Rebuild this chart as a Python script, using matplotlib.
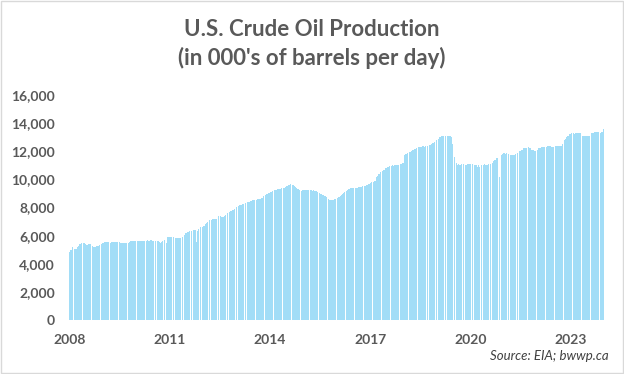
import numpy as np
import matplotlib
matplotlib.use('Agg')
from matplotlib import pyplot as plt
from matplotlib.patches import Rectangle

# weekly U.S. crude oil production, 000's of barrels per day
# one list per 52-week block (blocks start at the year labels)
y2008 = [4840, 4900, 4950, 5000, 5100, 5190, 5180, 5120, 5080, 5050,
         5050, 5060, 5100, 5200, 5280, 5330, 5380, 5420, 5450, 5480,
         5500, 5520, 5500, 5480, 5450, 5400, 5350, 5330, 5320, 5340,
         5380, 5400, 5410, 5380, 5350, 5300, 5250, 5220, 5200, 5190,
         5200, 5220, 5240, 5250, 5260, 5280, 5320, 5350, 5380, 5400,
         5420, 5450]
y2009 = [5480, 5500, 5520, 5550, 5560, 5570, 5580, 5560, 5540, 5520,
         5500, 5500, 5490, 5500, 5520, 5540, 5560, 5570, 5580, 5570,
         5560, 5550, 5540, 5550, 5560, 5540, 5530, 5520, 5510, 5500,
         5500, 5490, 5500, 5480, 5470, 5460, 5450, 5460, 5400, 5280,
         5450, 5520, 5580, 5600, 5620, 5640, 5640, 5630, 5620, 5610,
         5600, 5600]
y2010 = [5600, 5610, 5620, 5600, 5610, 5620, 5630, 5620, 5630, 5640,
         5640, 5630, 5640, 5650, 5640, 5650, 5640, 5650, 5660, 5650,
         5660, 5650, 5660, 5670, 5660, 5650, 5660, 5650, 5640, 5650,
         5640, 5640, 5630, 5640, 5620, 5600, 5560, 5500, 5480, 5520,
         5600, 5650, 5680, 5690, 5680, 5700, 5750, 5500, 5880, 5920,
         5930, 5940]
y2011 = [5920, 5900, 5890, 5880, 5870, 5860, 5870, 5860, 5850, 5860,
         5850, 5830, 5800, 5780, 5800, 5820, 5840, 5860, 5880, 5870,
         5880, 5900, 5950, 6050, 6120, 6160, 6180, 6200, 6250, 6280,
         6300, 6320, 6330, 6340, 6330, 6350, 6360, 6370, 6380, 6390,
         6380, 6380, 5570, 6300, 6400, 6450, 6500, 6550, 6580, 6610,
         6640, 6600]
y2012 = [6600, 6650, 6700, 6780, 6850, 6920, 6950, 7000, 7050, 7100,
         7110, 7120, 7130, 7140, 7150, 7150, 7160, 7170, 7180, 7180,
         7190, 7200, 7250, 7320, 7380, 7400, 7400, 7380, 7350, 7320,
         7300, 7300, 7320, 7380, 7450, 7500, 7550, 7600, 7630, 7650,
         7680, 7700, 7720, 7750, 7780, 7800, 7830, 7850, 7880, 7920,
         7960, 8000]
y2013 = [8010, 8050, 8080, 8120, 8160, 8200, 8210, 8200, 8210, 8220,
         8220, 8230, 8250, 8280, 8300, 8320, 8340, 8360, 8380, 8400,
         8420, 8430, 8450, 8470, 8490, 8500, 8510, 8520, 8530, 8540,
         8550, 8550, 8560, 8570, 8580, 8590, 8600, 8600, 8620, 8650,
         8700, 8750, 8800, 8850, 8880, 8920, 8950, 8960, 8980, 9000,
         9020, 9050]
y2014 = [9080, 9100, 9120, 9130, 9150, 9170, 9190, 9210, 9230, 9250,
         9260, 9270, 9290, 9300, 9320, 9340, 9350, 9360, 9370, 9380,
         9390, 9400, 9400, 9420, 9450, 9500, 9530, 9560, 9590, 9610,
         9620, 9630, 9640, 9620, 9600, 9610, 9600, 9580, 9550, 9500,
         9460, 9420, 9380, 9330, 9290, 9250, 9220, 9200, 9190, 9200,
         9210, 9220]
y2015 = [9230, 9240, 9250, 9240, 9250, 9260, 9250, 9240, 9250, 9240,
         9230, 9240, 9220, 9210, 9200, 9200, 9210, 9190, 9180, 9170,
         9150, 9120, 9100, 9080, 9050, 9020, 8980, 8960, 8940, 8920,
         8900, 8880, 8850, 8820, 8790, 8770, 8740, 8700, 8650, 8600,
         8550, 8530, 8520, 8540, 8550, 8560, 8570, 8560, 8570, 8580,
         8570, 8600]
y2016 = [8620, 8650, 8700, 8740, 8780, 8820, 8850, 8880, 8920, 8960,
         9000, 9050, 9080, 9120, 9160, 9200, 9230, 9260, 9290, 9320,
         9340, 9360, 9370, 9360, 9370, 9380, 9380, 9390, 9380, 9400,
         9390, 9400, 9410, 9420, 9430, 9440, 9450, 9470, 9480, 9500,
         9510, 9520, 9530, 9540, 9550, 9560, 9580, 9600, 9620, 9650,
         8530, 9700]
y2017 = [9720, 9750, 9780, 9800, 9820, 9840, 9850, 9860, 9870, 9880,
         10200, 10250, 10300, 10350, 10400, 10450, 10500, 10530, 10550, 10580,
         10600, 10650, 10700, 10750, 10790, 10800, 10820, 10850, 10880, 10900,
         10920, 10950, 10970, 10980, 10990, 11000, 10980, 11000, 10990, 11000,
         11010, 11000, 11020, 11010, 11030, 11050, 11060, 11080, 11100, 11120,
         11130, 11140]
y2018 = [11200, 11740, 11750, 11780, 11800, 11820, 11850, 11870, 11900, 11930,
         11950, 11980, 12000, 12050, 12080, 12100, 12120, 12150, 12170, 12200,
         12200, 12220, 12250, 12270, 12300, 12320, 12330, 12320, 12300, 12340,
         12350, 12360, 12330, 12360, 12380, 12360, 12380, 12400, 12420, 12450,
         12480, 12500, 12480, 12500, 12530, 12560, 12600, 12640, 12680, 12720,
         12760, 12800]
y2019 = [12830, 12860, 12900, 12950, 13000, 13040, 13050, 13050, 13060, 13070,
         13080, 13090, 13090, 13100, 13100, 13090, 13100, 13100, 13110, 13100,
         13100, 13100, 13000, 12800, 12500, 12200, 11850, 11600, 11400, 11260,
         11200, 11100, 11000, 11070, 11100, 11000, 11000, 10700, 11100, 11000,
         10400, 11100, 9770, 10800, 11000, 10900, 11000, 11100, 11000, 11100,
         11100, 11100]
y2020 = [11100, 11140, 10550, 11100, 11000, 11000, 11000, 10900, 11000, 11000,
         11000, 10900, 11000, 11000, 10900, 10960, 10900, 11000, 9720, 11000,
         11000, 11100, 11070, 11000, 11100, 11000, 11000, 11000, 11100, 11000,
         11000, 11100, 11200, 11200, 11200, 11300, 11300, 11400, 11500, 11400,
         11500, 11500, 11500, 11600, 11500, 10200, 11600, 11700, 11700, 11800,
         11800, 11900]
y2021 = [11900, 11900, 11800, 11900, 11900, 11900, 11800, 11800, 11700, 11700,
         11700, 11700, 11700, 11700, 11700, 11700, 11700, 11800, 11800, 11800,
         11900, 11900, 11900, 12000, 12000, 12000, 12000, 12100, 12100, 12100,
         12200, 12100, 12200, 12200, 12200, 12200, 12200, 12200, 12300, 12200,
         12200, 12200, 12200, 12100, 12100, 12100, 12100, 12000, 12100, 12000,
         12100, 12100]
y2022 = [12100, 12200, 12200, 12200, 12300, 12200, 12300, 12300, 12300, 12300,
         12300, 12300, 12400, 12400, 12300, 12400, 12400, 12400, 12400, 12400,
         12400, 12300, 12300, 12300, 12400, 12300, 12400, 12300, 12400, 12400,
         12400, 12400, 12500, 12400, 12400, 12500, 12400, 12400, 12400, 12500,
         12400, 12400, 12800, 12900, 12900, 13000, 13000, 13100, 13100, 13200,
         13200, 13200]
y2023 = [13200, 13300, 13200, 13300, 13300, 13300, 13200, 13300, 13300, 13300,
         13300, 13300, 13300, 13300, 13300, 13300, 13300, 13300, 13100, 13100,
         13100, 13100, 13100, 13100, 13100, 13100, 13100, 13100, 13100, 13100,
         13100, 13200, 13300, 13300, 13300, 13300, 13400, 13400, 13400, 13400,
         13400, 13400, 13500, 13400, 13300, 13300, 13300, 13300, 13400, 13400,
         13500, 13600]

blocks = [y2008, y2009, y2010, y2011, y2012, y2013, y2014, y2015,
          y2016, y2017, y2018, y2019, y2020, y2021, y2022, y2023]
year_labels = ['2008', '2011', '2014', '2017', '2020', '2023']
y_ticks = [0, 2000, 4000, 6000, 8000, 10000, 12000, 14000, 16000]

TEXT = '#595959'
BAR = '#a2ddf7'


def main():
    values = np.concatenate([np.array(b) for b in blocks])
    x = np.arange(len(values))

    plt.rcParams['font.family'] = ['Lato', 'DejaVu Sans']
    fig = plt.figure(figsize=(6.24, 3.74), dpi=100)
    fig.patches.append(Rectangle((0.001, 0.002), 0.997, 0.995, transform=fig.transFigure,
                                 fill=False, edgecolor='#d9d9d9', linewidth=1))
    ax = fig.add_axes([69 / 624, 1 - 320 / 374, 535 / 624, 225 / 374])

    ax.bar(x, values, width=0.85, color=BAR, linewidth=0)
    ax.set_xlim(-0.5, len(values) - 0.5)
    ax.set_ylim(0, 16000)

    ax.set_yticks(y_ticks)
    ax.set_yticklabels(['{:,}'.format(v) for v in y_ticks])
    ax.set_xticks([i * 3 * 52 for i in range(len(year_labels))])
    ax.set_xticklabels(year_labels)
    ax.tick_params(length=0, colors=TEXT, labelsize=10)
    ax.tick_params(axis='y', pad=10)
    ax.tick_params(axis='x', pad=10)
    for lab in ax.get_xticklabels() + ax.get_yticklabels():
        lab.set_fontweight('bold')
    for s in ax.spines.values():
        s.set_visible(False)

    fig.text(0.5, 1 - 36 / 374, "U.S. Crude Oil Production", ha='center', va='baseline',
             fontsize=16, fontweight='bold', color=TEXT)
    fig.text(0.5, 1 - 65 / 374, "(in 000's of barrels per day)", ha='center', va='baseline',
             fontsize=16, fontweight='bold', color=TEXT)
    fig.text(609 / 624, 1 - 356 / 374, "Source: EIA; bwwp.ca", ha='right', va='center',
             fontsize=9.5, style='italic', color='#404040')

    fig.savefig('out.png', dpi=100)


if __name__ == '__main__':
    main()
